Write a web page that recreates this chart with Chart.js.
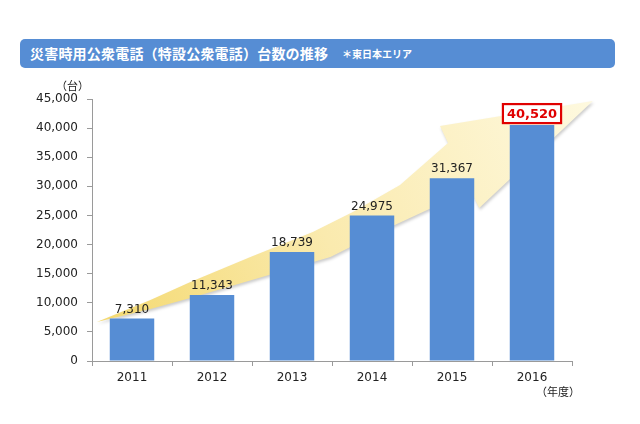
<!DOCTYPE html>
<html lang="ja">
<head>
<meta charset="utf-8">
<script src="https://cdn.jsdelivr.net/npm/chart.js@4.4.1/dist/chart.umd.min.js"></script>
<style>
    html, body { margin: 0; padding: 0; background: #ffffff; }
    #wrap { position: relative; width: 640px; height: 424px; }
    #banner {
        position: absolute; left: 20px; top: 39px; width: 595px; height: 29px;
        background: #568dd4; border-radius: 5px;
        font-family: "Noto Sans CJK JP", sans-serif; color: #ffffff; font-weight: bold;
    }
    #banner .main { position: absolute; left: 10px; top: 4px; font-size: 14px; line-height: 20px; letter-spacing: 0.2px; }
    #banner .sub { position: absolute; left: 322px; top: 7px; font-size: 10px; line-height: 16px; }
    .unit { position: absolute; font-family: "Noto Sans CJK JP", sans-serif; font-size: 11px; color: #222; line-height: 14px; }
</style>
</head>
<body>
<div id="wrap">
    <canvas id="unitsChart" width="640" height="424"></canvas>
    <div id="banner"><span class="main">災害時用公衆電話（特設公衆電話）台数の推移</span><span class="sub">＊東日本エリア</span></div>
    <div class="unit" style="left:56px; top:78px;">（台）</div>
    <div class="unit" style="left:536px; top:384px;">（年度）</div>
</div>
<script>
// Chart data
const years = ['2011', '2012', '2013', '2014', '2015', '2016'];
const phoneCounts = [7310, 11343, 18739, 24975, 31367, 40520];
const yTicks = [0, 5000, 10000, 15000, 20000, 25000, 30000, 35000, 40000, 45000];

// Decorative arrow outline in data space: [category index, value]
const arrowShape = [
    [-0.44, 6700], [0.23, 10480], [0.73, 13570], [1.48, 17860], [2.26, 22160],
    [2.76, 25590], [3.35, 30230], [3.95, 37440], [3.85, 40360], [5.76, 44660],
    [4.34, 26280], [4.23, 29370], [3.23, 23020], [2.48, 17860], [0.73, 10820], [0.23, 8930]
];

const BAR_COLOR = '#568dd4';
const AXIS_COLOR = '#9a9a9a';
const TEXT_COLOR = '#222222';

const fmt = v => v.toLocaleString('en-US');

// Draws the yellow growth arrow behind the bars
const arrowPlugin = {
    id: 'growthArrow',
    beforeDatasetsDraw(chart) {
        const { ctx, scales: { x, y } } = chart;
        const toPx = p => [x.getPixelForValue(p[0]), y.getPixelForValue(p[1])];
        const pts = arrowShape.map(toPx);
        const tail = pts[0];
        const tip = pts[9];

        const grad = ctx.createLinearGradient(tail[0], tail[1], tip[0], tip[1]);
        grad.addColorStop(0, '#f4d970');
        grad.addColorStop(0.45, '#faeaae');
        grad.addColorStop(1, '#fef9df');

        ctx.save();
        ctx.beginPath();
        pts.forEach((p, i) => (i === 0 ? ctx.moveTo(p[0], p[1]) : ctx.lineTo(p[0], p[1])));
        ctx.closePath();
        ctx.shadowColor = 'rgba(0, 0, 0, 0.2)';
        ctx.shadowBlur = 3;
        ctx.shadowOffsetX = 1;
        ctx.shadowOffsetY = 2;
        ctx.fillStyle = grad;
        ctx.fill();
        ctx.restore();
    }
};

// Value labels above the bars, last one highlighted in a red box
const valueLabelPlugin = {
    id: 'valueLabels',
    afterDatasetsDraw(chart) {
        const { ctx } = chart;
        const meta = chart.getDatasetMeta(0);
        ctx.save();
        ctx.textAlign = 'center';
        ctx.textBaseline = 'bottom';
        meta.data.forEach((bar, i) => {
            const text = fmt(phoneCounts[i]);
            if (i === phoneCounts.length - 1) {
                ctx.font = 'bold 13px "DejaVu Sans"';
                const w = ctx.measureText(text).width + 8;
                const h = 19;
                const top = bar.y - h - 2;
                ctx.fillStyle = '#ffffff';
                ctx.fillRect(bar.x - w / 2, top, w, h);
                ctx.strokeStyle = '#e00000';
                ctx.lineWidth = 2.2;
                ctx.strokeRect(bar.x - w / 2, top, w, h);
                ctx.fillStyle = '#e00000';
                ctx.fillText(text, bar.x, top + h - 2);
            } else {
                ctx.font = '12px "DejaVu Sans"';
                ctx.fillStyle = TEXT_COLOR;
                ctx.fillText(text, bar.x, bar.y - 3);
            }
        });
        ctx.restore();
    }
};

document.addEventListener('DOMContentLoaded', function () {
    const ctx = document.getElementById('unitsChart');

    new Chart(ctx, {
        type: 'bar',
        data: {
            labels: years,
            datasets: [{
                data: phoneCounts,
                backgroundColor: BAR_COLOR,
                borderWidth: 0,
                barPercentage: 0.556,
                categoryPercentage: 1
            }]
        },
        options: {
            responsive: false,
            animation: false,
            devicePixelRatio: 1,
            layout: {
                padding: { left: 0, top: 99, right: 68, bottom: 0 }
            },
            plugins: {
                legend: { display: false },
                tooltip: { enabled: false }
            },
            scales: {
                y: {
                    min: 0,
                    max: 45000,
                    afterFit: scale => { scale.width = 92; },
                    afterBuildTicks: scale => { scale.ticks = yTicks.map(v => ({ value: v })); },
                    border: { color: AXIS_COLOR, width: 1 },
                    grid: { drawOnChartArea: false, color: AXIS_COLOR, tickLength: 5 },
                    ticks: {
                        color: TEXT_COLOR,
                        padding: 9,
                        font: { family: 'DejaVu Sans', size: 12 },
                        callback: value => fmt(value)
                    }
                },
                x: {
                    afterFit: scale => { scale.height = 63; },
                    border: { color: AXIS_COLOR, width: 1 },
                    grid: { drawOnChartArea: false, color: AXIS_COLOR, tickLength: 5, offset: true },
                    ticks: {
                        color: TEXT_COLOR,
                        padding: 5,
                        font: { family: 'DejaVu Sans', size: 12 }
                    }
                }
            }
        },
        plugins: [arrowPlugin, valueLabelPlugin]
    });
});
</script>
</body>
</html>
